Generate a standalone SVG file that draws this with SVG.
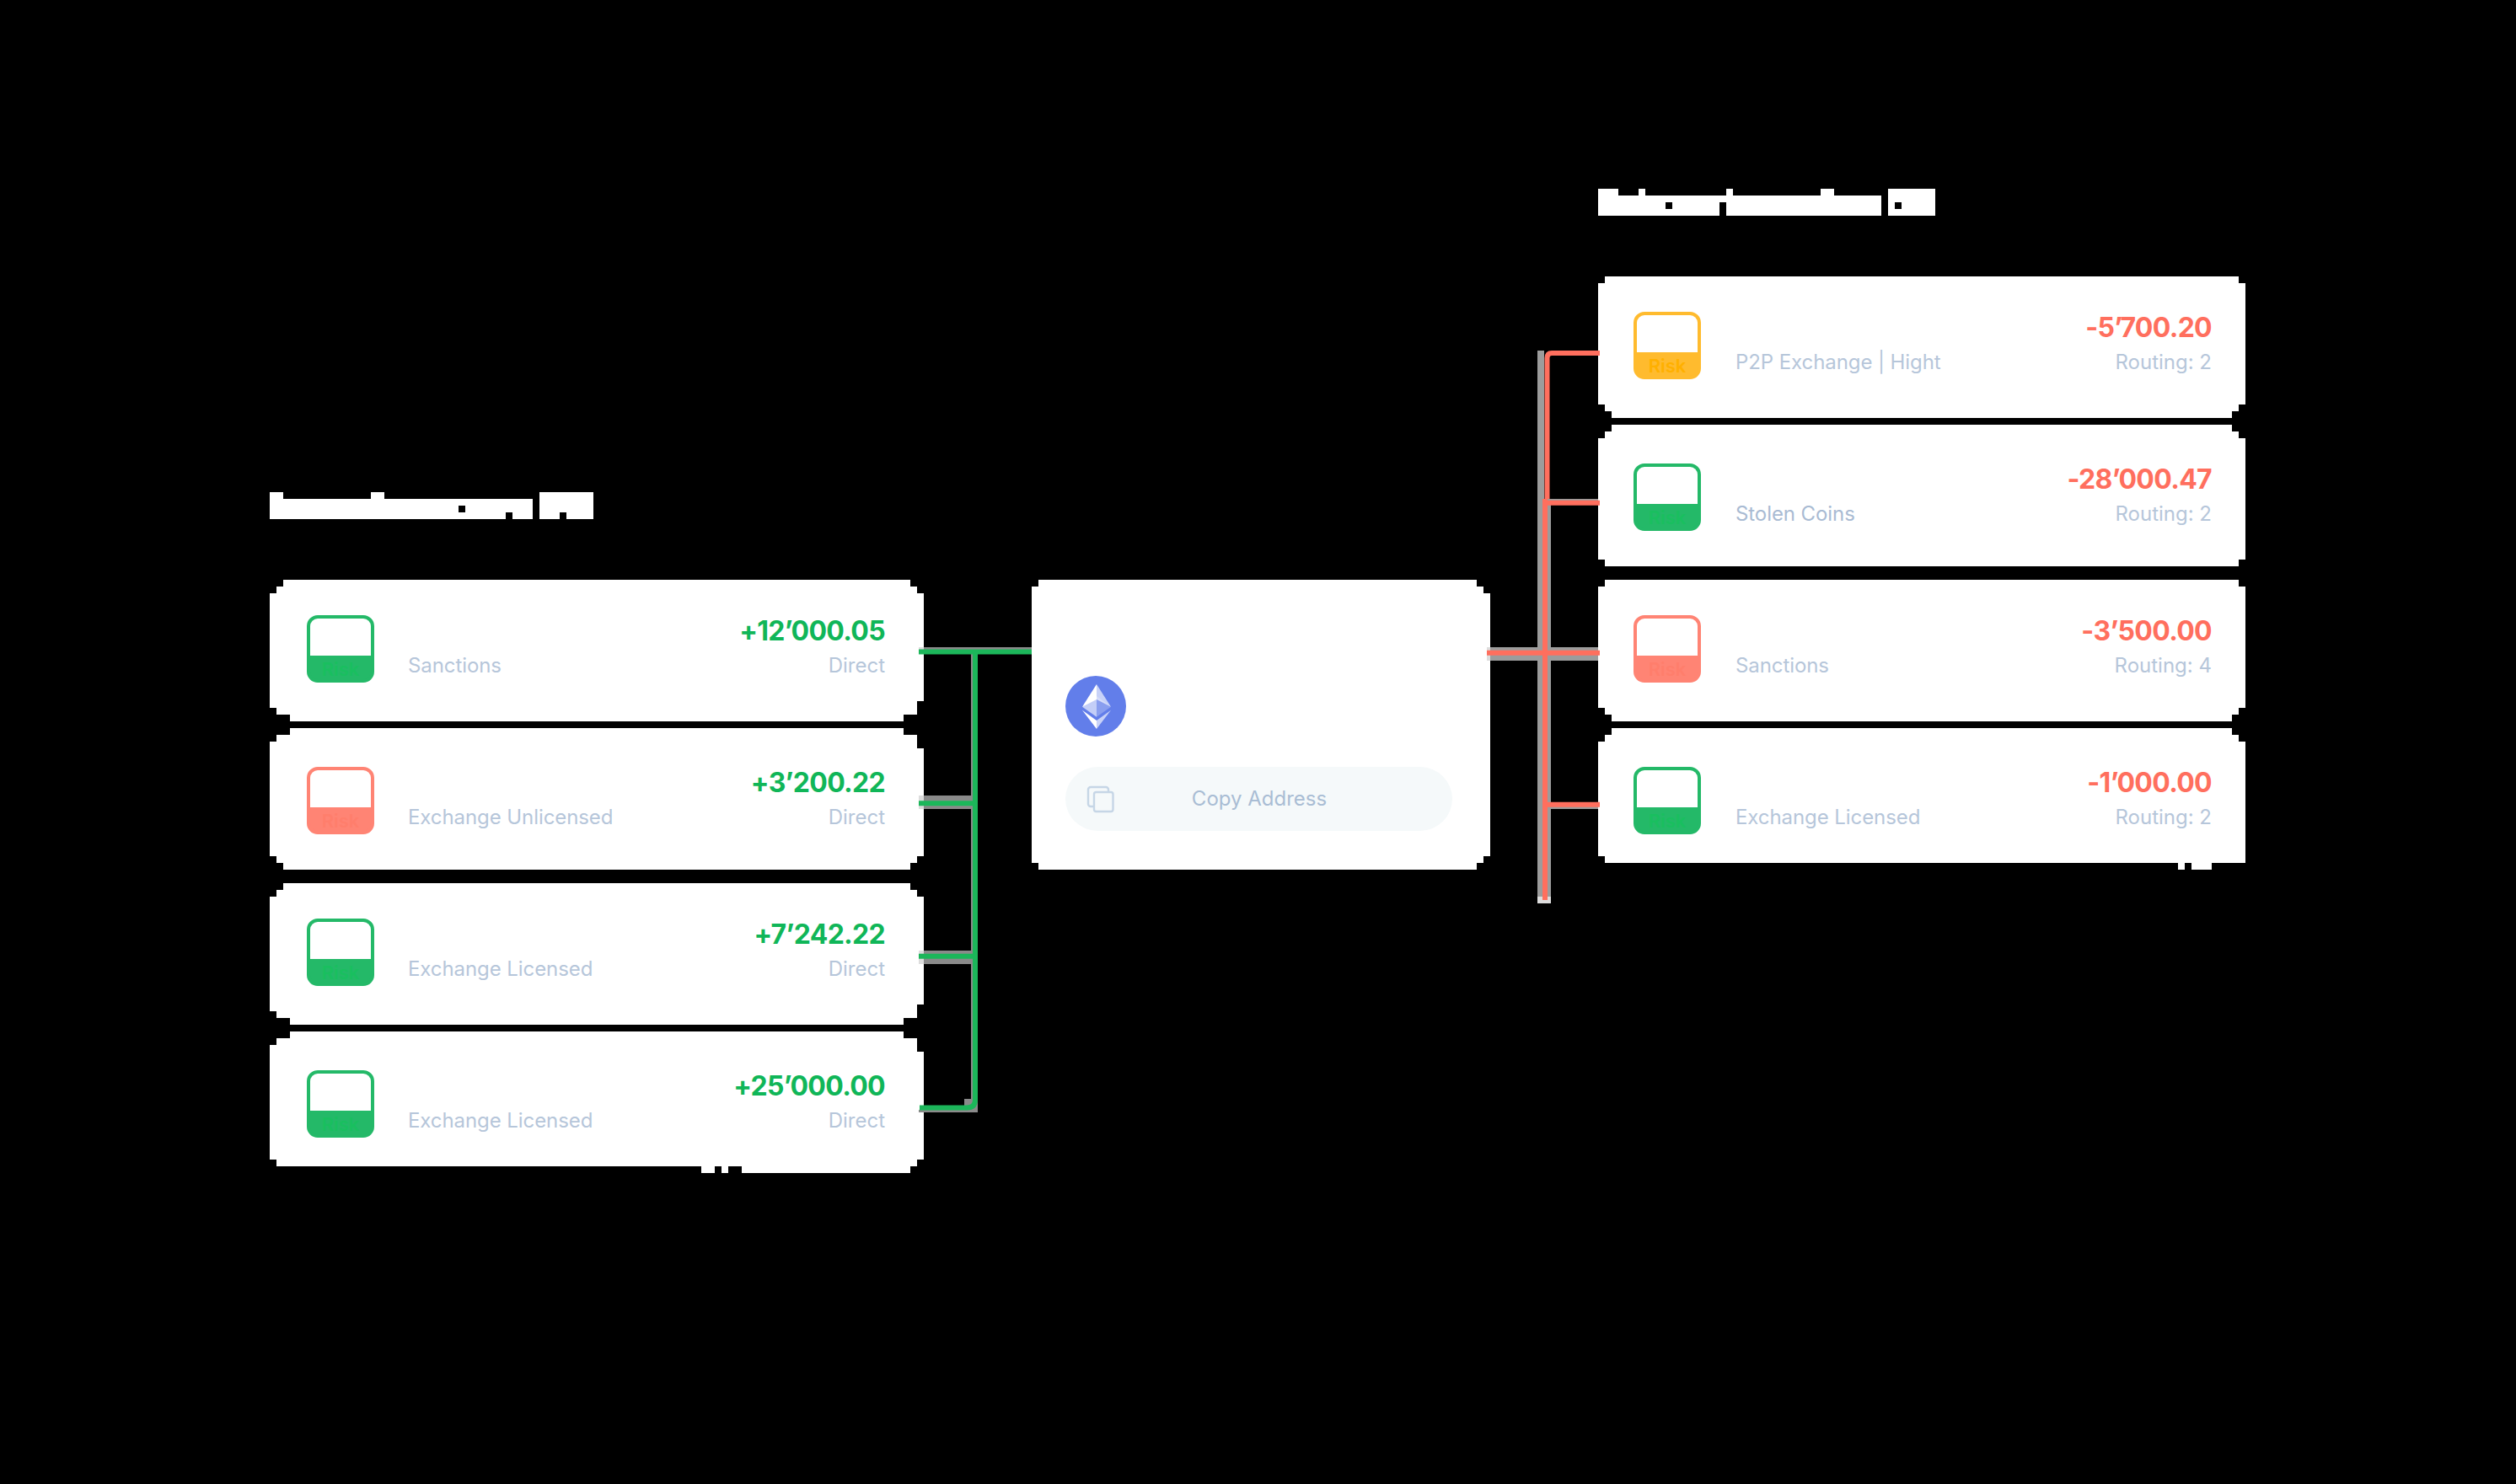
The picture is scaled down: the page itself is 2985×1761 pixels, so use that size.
<svg xmlns="http://www.w3.org/2000/svg" width="2985" height="1761" viewBox="0 0 2985 1761">
<style>
text{font-family:"Inter","Noto Sans","Liberation Sans",sans-serif}
.card{fill:#fff}
.amt{font-size:32px;font-weight:700;letter-spacing:-.7px;text-anchor:end}
.pos{fill:#10B658}
.neg{fill:#FF6F5E}
.lab{font-size:24px;fill:#B6C6DA;letter-spacing:-.08px}
.rt{font-size:24px;fill:#B6C6DA;text-anchor:end}
.risk{font-size:22px;font-weight:600;text-anchor:middle}
.gr{fill:#24B968;stroke:#24B968}
.rd{fill:#FF8474;stroke:#FF8474}
.yl{fill:#FFBB2E;stroke:#FFBB2E}
.box{stroke-width:4}
.inner{fill:#fff}
.g50{fill:#8A8A8A}
.l50{fill:#DDDDDD}
.h50{fill:#9C9C9C}
.cg{stroke:#1CB65A;stroke-width:6;fill:none}
.cr{stroke:#FF6F5E;stroke-width:6;fill:none}
</style>
<defs>
<g id="ico">
<rect class="box" x="2" y="2" width="76" height="76" rx="11"/>
<path d="M4 48V13a9 9 0 0 1 9-9H67a9 9 0 0 1 9 9V48Z" class="inner" style="stroke:none"/>
</g>
</defs>
<rect width="2985" height="1761" fill="#000"/>

<g id="title-left" fill="#fff">
<path d="M320 584H336V592H440V584H456V592H632V616H608V608H600V616H320Z M544 600V608H552V600Z" fill-rule="evenodd"/>
<path d="M640 584H704V616H672V608H664V616H640Z"/>
</g>
<g id="title-right" fill="#fff">
<path d="M1896 224H1920V232H1944V224H1952V232H2048V224H2056V232H2160V224H2176V232H2232V256H2048V240H2040V256H1896Z M1976 240V248H1984V240Z" fill-rule="evenodd"/>
<path d="M2240 224H2296V256H2240Z M2248 240V248H2256V240Z" fill-rule="evenodd"/>
</g>

<g id="in-1">
<path class="card" d="M336 688H1080V696H1088V704H1096V832H1088V848H1072V856H344V848H328V840H320V704H328V696H336Z"/>
<use href="#ico" x="364" y="730" class="gr"/>
<text class="risk" x="404" y="802" fill="#19BF5F">Risk</text>
<text class="lab" x="484" y="798">Sanctions</text>
<text class="amt pos" x="1050" y="760">+12’000.05</text>
<text class="rt" x="1050" y="798">Direct</text>
</g>
<g id="in-2">
<path class="card" d="M344 864H1072V872H1088V888H1096V1016H1088V1024H1080V1032H336V1024H328V1016H320V880H328V872H344Z"/>
<use href="#ico" x="364" y="910" class="rd"/>
<text class="risk" x="404" y="982" fill="#FF7E6C">Risk</text>
<text class="lab" x="484" y="978">Exchange Unlicensed</text>
<text class="amt pos" x="1050" y="940">+3’200.22</text>
<text class="rt" x="1050" y="978">Direct</text>
</g>
<g id="in-3">
<path class="card" d="M336 1048H1080V1056H1088V1064H1096V1192H1088V1208H1072V1216H344V1208H328V1200H320V1064H328V1056H336Z"/>
<use href="#ico" x="364" y="1090" class="gr"/>
<text class="risk" x="404" y="1162" fill="#19BF5F">Risk</text>
<text class="lab" x="484" y="1158">Exchange Licensed</text>
<text class="amt pos" x="1050" y="1120">+7’242.22</text>
<text class="rt" x="1050" y="1158">Direct</text>
</g>
<g id="in-4">
<path class="card" d="M344 1224H1072V1232H1088V1248H1096V1376H1088V1384H1080V1392H880V1384H864V1392H856V1384H848V1392H832V1384H328V1376H320V1240H328V1232H344Z"/>
<use href="#ico" x="364" y="1270" class="gr"/>
<text class="risk" x="404" y="1342" fill="#19BF5F">Risk</text>
<text class="lab" x="484" y="1338">Exchange Licensed</text>
<text class="amt pos" x="1050" y="1300">+25’000.00</text>
<text class="rt" x="1050" y="1338">Direct</text>
</g>

<g id="center">
<path class="card" d="M1232 688H1752V696H1760V704H1768V1016H1760V1024H1752V1032H1232V1024H1224V696H1232Z"/>
<g id="eth">
<circle cx="1300" cy="838" r="36" fill="#627EEA"/>
<path d="M1301 812V830L1284 838.7Z" fill="#fff"/>
<path d="M1301 812V830L1318 838.7Z" fill="#fff" fill-opacity=".65"/>
<path d="M1301 826L1284 838.7L1301 850.7Z" fill="#fff" fill-opacity=".62"/>
<path d="M1301 826L1318 838.7L1301 850.7Z" fill="#fff" fill-opacity=".25"/>
<path d="M1284 842.7L1301 855V865Z" fill="#fff"/>
<path d="M1318 842.7L1301 855V865Z" fill="#fff" fill-opacity=".65"/>
</g>
<rect x="1264" y="910" width="459" height="76" rx="38" fill="#F5F9FA"/>
<g fill="none" stroke="#C6D6E6" stroke-width="2.4">
<path d="M1297 957H1294a3 3 0 0 1-3-3V937a3 3 0 0 1 3-3H1312a3 3 0 0 1 3 3V940"/>
<rect x="1298" y="940" width="22.5" height="23" rx="2.5"/>
</g>
<text x="1494" y="956" font-size="24" fill="#A9BDD4" text-anchor="middle">Copy Address</text>
</g>

<g id="out-1">
<path class="card" d="M1904 328H2656V336H2664V480H2656V488H2648V496H1912V488H1904V480H1896V336H1904Z"/>
<use href="#ico" x="1938" y="370" class="yl"/>
<text class="risk" x="1978" y="442" fill="#FFB000">Risk</text>
<text class="lab" x="2059" y="438">P2P Exchange | Hight</text>
<text class="amt neg" x="2624" y="400">-5’700.20</text>
<text class="rt" x="2624" y="438">Routing: 2</text>
</g>
<g id="out-2">
<path class="card" d="M1912 504H2648V512H2656V520H2664V664H2656V672H1904V664H1896V520H1904V512H1912Z"/>
<use href="#ico" x="1938" y="550" class="gr"/>
<text class="risk" x="1978" y="622" fill="#19BF5F">Risk</text>
<text class="lab" x="2059" y="618" style="fill:#A9BBD3">Stolen Coins</text>
<text class="amt neg" x="2624" y="580">-28’000.47</text>
<text class="rt" x="2624" y="618">Routing: 2</text>
</g>
<g id="out-3">
<path class="card" d="M1904 688H2656V696H2664V840H2656V848H2648V856H1912V848H1904V840H1896V696H1904Z"/>
<use href="#ico" x="1938" y="730" class="rd"/>
<text class="risk" x="1978" y="802" fill="#FF7E6C">Risk</text>
<text class="lab" x="2059" y="798">Sanctions</text>
<text class="amt neg" x="2624" y="760">-3’500.00</text>
<text class="rt" x="2624" y="798">Routing: 4</text>
</g>
<g id="out-4">
<path class="card" d="M1912 864H2648V872H2656V880H2664V1024H2624V1032H2600V1024H2592V1032H2584V1024H1904V1016H1896V880H1904V872H1912Z"/>
<use href="#ico" x="1938" y="910" class="gr"/>
<text class="risk" x="1978" y="982" fill="#19BF5F">Risk</text>
<text class="lab" x="2059" y="978">Exchange Licensed</text>
<text class="amt neg" x="2624" y="940">-1’000.00</text>
<text class="rt" x="2624" y="978">Routing: 2</text>
</g>

<g id="connectors">
<rect class="g50" x="1096" y="768" width="128" height="3"/>
<rect class="l50" x="1090" y="768" width="6" height="3"/>
<rect class="g50" x="1152" y="776" width="3" height="528"/>
<rect class="g50" x="1096" y="944" width="56" height="16"/>
<rect class="l50" x="1090" y="944" width="6" height="16"/>
<rect class="g50" x="1096" y="1128" width="56" height="16"/>
<rect class="l50" x="1090" y="1128" width="6" height="16"/>
<rect class="g50" x="1144" y="1304" width="16" height="16"/>
<rect class="g50" x="1090" y="1317" width="70" height="3"/>
<path class="cg" d="M1090 773.500H1224"/>
<path class="cg" d="M1157 776V1305Q1157 1314.500 1147 1314.500H1091"/>
<path class="cg" d="M1090 953.300H1157"/>
<path class="cg" d="M1090 1134.700H1157"/>
<rect class="h50" x="1824" y="416" width="8" height="656"/>
<rect class="h50" x="1832" y="596" width="8" height="476"/>
<rect class="l50" x="1824" y="1064" width="16" height="8"/>
<rect class="h50" x="1768" y="768" width="128" height="16"/>
<rect class="l50" x="1764" y="768" width="4" height="16"/>
<rect class="h50" x="1832" y="592" width="64" height="2"/>
<rect class="h50" x="1832" y="957" width="64" height="3"/>
<path class="cr" d="M1898 419H1841Q1835.500 419 1835.500 425V592"/>
<path class="cr" d="M1833 592V1068"/>
<path class="cr" d="M1832 596.700H1898"/>
<path class="cr" d="M1764 774.700H1898"/>
<path class="cr" d="M1832 954.700H1898"/>
</g>
</svg>
